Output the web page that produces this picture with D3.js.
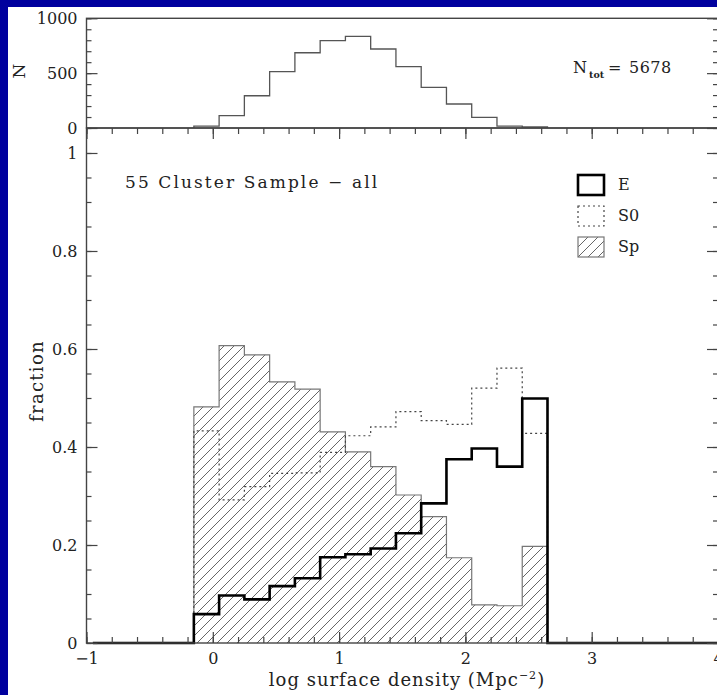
<!DOCTYPE html>
<html>
<head>
<meta charset="utf-8">
<script src="https://d3js.org/d3.v7.min.js"></script>
<style>
  body { margin: 0; background: #00009e; }
  text { font-family: "DejaVu Serif", serif; fill: #222; }
</style>
</head>
<body>
<script>

// bin edges, log surface density
var binEdges = [-0.15, 0.05, 0.25, 0.45, 0.65, 0.85, 1.05, 1.25, 1.45, 1.65, 1.85, 2.05, 2.25, 2.45, 2.65];
// top panel: number of galaxies per bin
var countN = [18, 112, 294, 513, 686, 796, 836, 720, 559, 371, 219, 97, 18, 9];
var nTot = 5678;
// bottom panel: fractions per bin
var fracE  = [0.059, 0.097, 0.089, 0.116, 0.132, 0.175, 0.181, 0.193, 0.224, 0.285, 0.375, 0.397, 0.360, 0.499];
var fracS0 = [0.433, 0.292, 0.319, 0.346, 0.347, 0.389, 0.423, 0.441, 0.472, 0.454, 0.446, 0.520, 0.561, 0.428];
var fracSp = [0.482, 0.607, 0.588, 0.533, 0.518, 0.431, 0.390, 0.360, 0.302, 0.258, 0.174, 0.078, 0.076, 0.197];
// E line runs along zero outside the filled bins
var eZeroFrom = -0.95, eZeroTo = 4;

var xTicks = [-1, 0, 1, 2, 3, 4];
var fracTicks = [0, 0.2, 0.4, 0.6, 0.8, 1];
var nTicks = [0, 500, 1000];
var legendNames = ["E", "S0", "Sp"];
var title = "55 Cluster Sample \u2212 all";

var W = 717, H = 695;
var left = 86.5, right = 718, topTop = 18.3, mid = 128, bottom = 643;

var svg = d3.select("body").append("svg")
  .attr("width", W).attr("height", H);

svg.append("rect").attr("x", 8).attr("y", 7).attr("width", W - 8).attr("height", H - 7)
  .attr("fill", "#fff");

var x = d3.scaleLinear().domain([-1, 4]).range([left, right]);
var yN = d3.scaleLinear().domain([0, 1000]).range([mid, topTop]);
var yF = d3.scaleLinear().domain([0, 1.051]).range([bottom, mid]);

// hatch pattern for spirals
var defs = svg.append("defs");
var pat = defs.append("pattern").attr("id", "hatch")
  .attr("patternUnits", "userSpaceOnUse").attr("width", 10).attr("height", 10);
pat.append("path").attr("d", "M-1,11 L11,-1 M-1,1 L1,-1 M9,11 L11,9")
  .attr("stroke", "#555").attr("stroke-width", 0.9);

function stepPoints(vals) {
  var pts = [[binEdges[0], 0]];
  vals.forEach(function(v, i) {
    pts.push([binEdges[i], v]);
    pts.push([binEdges[i + 1], v]);
  });
  pts.push([binEdges[binEdges.length - 1], 0]);
  return pts;
}

var lineF = d3.line().x(function(d) { return x(d[0]); }).y(function(d) { return yF(d[1]); });
var lineN = d3.line().x(function(d) { return x(d[0]); }).y(function(d) { return yN(d[1]); });

// ---- top panel
svg.append("path").attr("d", lineN(stepPoints(countN)))
  .attr("fill", "none").attr("stroke", "#555").attr("stroke-width", 1.3);

// ---- bottom panel
svg.append("path").attr("d", lineF(stepPoints(fracSp)))
  .attr("fill", "url(#hatch)").attr("stroke", "#777").attr("stroke-width", 1.2);

svg.append("path").attr("d", lineF(stepPoints(fracS0)))
  .attr("fill", "none").attr("stroke", "#444").attr("stroke-width", 1.2)
  .attr("stroke-dasharray", "2,3");

var ePts = [[eZeroFrom, 0]].concat(stepPoints(fracE)).concat([[eZeroTo, 0]]);
svg.append("path").attr("d", lineF(ePts))
  .attr("fill", "none").attr("stroke", "#000").attr("stroke-width", 2.6);

// ---- frames
var frame = svg.append("g").attr("stroke", "#444").attr("stroke-width", 1.4).attr("fill", "none");
frame.append("rect").attr("x", left).attr("y", topTop).attr("width", right - left).attr("height", mid - topTop);
frame.append("rect").attr("x", left).attr("y", mid).attr("width", right - left).attr("height", bottom - mid);

// ---- axes
function styleAxis(g) {
  g.select(".domain").remove();
  g.selectAll(".tick line").attr("stroke", "#444").attr("stroke-width", 1.2);
  g.selectAll(".tick text").style("font-size", "16px").attr("fill", "#222")
    .style("font-family", "'DejaVu Serif', serif");
}
var minorX = d3.range(-1, 4.01, 0.2);

function xAxes(gen, y, labels) {
  svg.append("g").attr("transform", "translate(0," + y + ")")
    .call(gen(x).tickValues(minorX).tickSize(-6).tickFormat("")).call(styleAxis);
  svg.append("g").attr("transform", "translate(0," + y + ")")
    .call(gen(x).tickValues(xTicks).tickSize(-11).tickPadding(10)
      .tickFormat(labels ? function(d) { return d < 0 ? "\u2212" + Math.abs(d) : d; } : ""))
    .call(styleAxis);
}
xAxes(d3.axisBottom, bottom, true);
xAxes(d3.axisTop, mid, false);

function yAxes(scale, majors, minors, fmt) {
  svg.append("g").attr("transform", "translate(" + left + ",0)")
    .call(d3.axisLeft(scale).tickValues(minors).tickSize(-5).tickFormat("")).call(styleAxis);
  svg.append("g").attr("transform", "translate(" + left + ",0)")
    .call(d3.axisLeft(scale).tickValues(majors).tickSize(-11).tickPadding(9).tickFormat(fmt)).call(styleAxis);
  svg.append("g").attr("transform", "translate(" + right + ",0)")
    .call(d3.axisRight(scale).tickValues(minors).tickSize(-5).tickFormat("")).call(styleAxis);
  svg.append("g").attr("transform", "translate(" + right + ",0)")
    .call(d3.axisRight(scale).tickValues(majors).tickSize(-11).tickFormat("")).call(styleAxis);
}
yAxes(yN, nTicks, d3.range(0, 1001, 100), function(d) { return d; });
yAxes(yF, fracTicks, d3.range(0, 1.001, 0.05),
  function(d) { return (d === 0 || d === 1) ? d : d3.format(".1f")(d); });

// ---- labels
svg.append("text").attr("transform", "translate(43,381) rotate(-90)")
  .attr("text-anchor", "middle").style("font-size", "18px").style("letter-spacing", "1.3px")
  .text("fraction");

svg.append("text").attr("transform", "translate(25,71) rotate(-90)")
  .attr("text-anchor", "middle").style("font-size", "17px").text("N");

var xl = svg.append("text").attr("x", 407).attr("y", 686).attr("text-anchor", "middle")
  .style("font-size", "18px").style("letter-spacing", "1px");
xl.append("tspan").text("log surface density (Mpc");
xl.append("tspan").attr("dy", -7).style("font-size", "11px").text("\u22122");
xl.append("tspan").attr("dy", 7).text(")");

svg.append("text").attr("x", 125).attr("y", 188).style("font-size", "17px")
  .style("letter-spacing", "2.1px").text(title);

svg.append("text").attr("x", 573).attr("y", 73).style("font-size", "16px").text("N");
svg.append("text").attr("x", 589).attr("y", 78).style("font-size", "9.5px").style("font-weight", "bold").text("tot");
svg.append("text").attr("x", 608).attr("y", 73).style("font-size", "16px").text("=");
svg.append("text").attr("x", 629).attr("y", 73).style("font-size", "16px").style("letter-spacing", "0.5px").text(nTot);

// ---- legend
var leg = svg.selectAll("g.leg").data(legendNames).enter().append("g")
  .attr("class", "leg")
  .attr("transform", function(d, i) { return "translate(578," + (175 + i * 31) + ")"; });
leg.append("rect").attr("width", 26).attr("height", 20)
  .attr("fill", function(d) { return d === "Sp" ? "url(#hatch)" : "none"; })
  .attr("stroke", function(d) { return d === "E" ? "#000" : d === "S0" ? "#444" : "#777"; })
  .attr("stroke-width", function(d) { return d === "E" ? 2.6 : 1.2; })
  .attr("stroke-dasharray", function(d) { return d === "S0" ? "2,3" : null; });
leg.append("text").attr("x", 40).attr("y", 15).style("font-size", "16px").text(function(d) { return d; });

</script>
</body>
</html>
